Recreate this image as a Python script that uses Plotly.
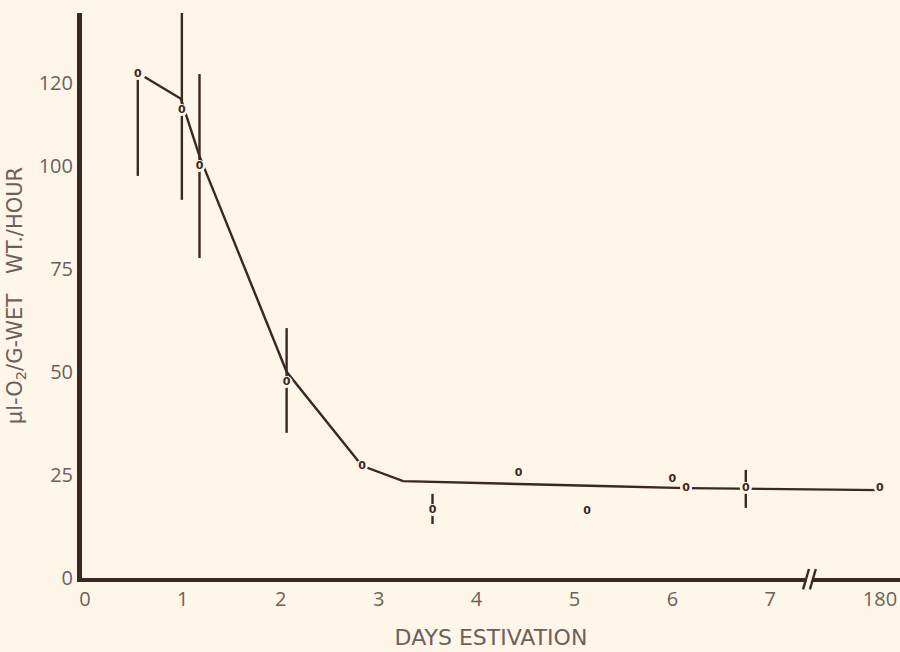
import plotly.graph_objects as go

# ---- data ----
days = [0.54, 0.99, 1.17, 2.06, 2.83, 3.55, 4.43, 5.13, 6.00, 6.14, 6.75, 180]
o2_rate = [122.2, 113.5, 99.9, 47.5, 27.2, 16.5, 25.5, 16.2, 24.0, 21.8, 21.8, 21.8]
err_plus = [0, 23.5, 22.3, 13.1, 0, 3.9, 0, 0, 0, 0, 4.4, 0]
err_minus = [24.7, 21.8, 22.3, 12.3, 0, 3.4, 0, 0, 0, 0, 4.8, 0]

curve_days = [0.61, 0.98, 1.17, 2.06, 2.83, 3.25, 5.26, 6.14, 180]
curve_vals = [121.5, 116.2, 102.3, 50.0, 27.2, 23.5, 22.3, 21.8, 21.3]

tick_days = [0, 1, 2, 3, 4, 5, 6, 7, 180]
tick_labels = ["0", "1", "2", "3", "4", "5", "6", "7", "180"]
y_ticks = [0, 25, 50, 75, 100, 120]

# broken axis: everything beyond day 7 sits in a slot after the break
BREAK_AT = 7.4
LATE_SLOT = 8.12


def axis_pos(d):
    return d if d <= 7 else LATE_SLOT


BG = "#fdf6e9"
INK = "#3b2724"
LABEL = "#6e5f5b"

xs = [axis_pos(d) for d in days]
cx = [axis_pos(d) for d in curve_days]
tx = [axis_pos(d) for d in tick_days]

fig = go.Figure()

# fitted curve
fig.add_trace(go.Scatter(
    x=cx, y=curve_vals, mode="lines",
    line=dict(color=INK, width=2.4), hoverinfo="skip", showlegend=False))

# error bars + background knockouts (gap around each "o")
fig.add_trace(go.Scatter(
    x=xs, y=o2_rate, mode="markers",
    marker=dict(size=12, color=BG, line=dict(width=0)),
    error_y=dict(type="data", symmetric=False, array=err_plus,
                 arrayminus=err_minus, color=INK, thickness=2.4, width=0),
    hoverinfo="skip", showlegend=False))

# the "o" point symbols
fig.add_trace(go.Scatter(
    x=xs, y=o2_rate, mode="text", text=["0"] * len(xs),
    textposition="middle center",
    textfont=dict(family="DejaVu Sans", size=11, color=INK, weight="bold"),
    hoverinfo="skip", showlegend=False))

# axis break: gap in the axis line plus two slashes
fig.add_shape(type="rect", xref="x", yref="paper",
              x0=BREAK_AT - 0.03, x1=BREAK_AT + 0.03, y0=-0.012, y1=0.006,
              line=dict(width=0), fillcolor=BG, layer="above")
for dx in (-0.035, 0.035):
    fig.add_shape(type="line", xref="x", yref="paper",
                  x0=BREAK_AT + dx - 0.03, x1=BREAK_AT + dx + 0.03,
                  y0=-0.02, y1=0.016,
                  line=dict(color=INK, width=2.4), layer="above")

fig.update_layout(
    width=900, height=652,
    margin=dict(l=82, r=0, t=13, b=74),
    paper_bgcolor=BG, plot_bgcolor=BG,
    xaxis=dict(
        range=[-0.03, 8.325], showgrid=False, zeroline=False,
        showline=True, linecolor=INK, linewidth=4,
        tickmode="array", tickvals=tx, ticktext=tick_labels, ticks="",
        tickfont=dict(family="Open Sans", size=20, color=LABEL),
        title=dict(text="DAYS ESTIVATION", standoff=20,
                   font=dict(family="DejaVu Sans", size=22, color=LABEL)),
    ),
    yaxis=dict(
        range=[0, 137], showgrid=False, zeroline=False,
        showline=True, linecolor=INK, linewidth=5,
        tickmode="array", tickvals=y_ticks, ticks="",
        tickfont=dict(family="Open Sans", size=20, color=LABEL),
        title=dict(text="\u03bcl-O<sub>2</sub>/G-WET\u00a0\u00a0\u00a0WT./HOUR",
                   standoff=12,
                   font=dict(family="DejaVu Sans", size=21, color=LABEL)),
    ),
)

fig.write_html("out.html")
